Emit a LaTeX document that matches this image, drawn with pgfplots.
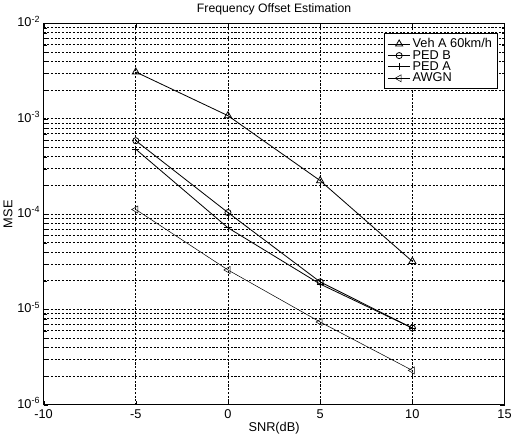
\documentclass[border=0pt]{standalone}
\usepackage{pgfplots}
\pgfplotsset{compat=1.18}
\usepackage{fontspec}
\setmainfont{Liberation Sans}

\begin{document}
\begin{tikzpicture}
\begin{axis}[
    scale only axis,
    width=452pt, height=374pt,
    ymode=log,
    xmin=-10, xmax=15,
    ymin=1e-6, ymax=1e-2,
    xtick={-10,-5,0,5,10,15},
    ytick={1e-6,1e-5,1e-4,1e-3,1e-2},
    yticklabels={10\textsuperscript{-6},10\textsuperscript{-5},10\textsuperscript{-4},10\textsuperscript{-3},10\textsuperscript{-2}},
    /pgf/number format/assume math mode=true,
    tick label style={font=\fontsize{12.5}{14}\selectfont},
    xticklabel style={yshift=-1.5pt},
    yticklabel style={yshift=2pt},
    label style={font=\fontsize{12.5}{14}\selectfont},
    ylabel style={yshift=-2pt},
    xlabel style={yshift=4pt},
    title style={font=\fontsize{12}{14}\selectfont, yshift=-1pt},
    title={Frequency Offset Estimation},
    xlabel={SNR(dB)},
    ylabel={MSE},
    xmajorgrids, ymajorgrids, yminorgrids,
    major grid style={black, dash pattern=on 2pt off 1.6pt, line width=0.8pt},
    minor grid style={black, dash pattern=on 2pt off 1.6pt, line width=0.8pt},
    axis line style={black, line width=1pt},
    tick style={black},
    tick align=inside,
    legend style={at={(0.985,0.975)}, anchor=north east, draw=black, line width=1pt,
        fill=white, font=\fontsize{12.5}{13}\selectfont, row sep=-3pt, inner sep=3pt},
    legend image code/.code={
        \draw[mark repeat=2,mark phase=2] plot coordinates {(0cm,0cm) (0.38cm,0cm) (0.76cm,0cm)};},
    legend cell align=left,
]
\addplot[black, line width=0.8pt, mark=triangle, mark size=4pt, mark options={solid}]
  coordinates {(-5,3.1e-3) (0,1.08e-3) (5,2.25e-4) (10,3.2e-5)};
\addplot[black, line width=0.8pt, mark=o, mark size=3pt]
  coordinates {(-5,5.9e-4) (0,1.04e-4) (5,1.95e-5) (10,6.4e-6)};
\addplot[black, line width=0.8pt, mark=+, mark size=3.5pt]
  coordinates {(-5,4.8e-4) (0,7.2e-5) (5,1.85e-5) (10,6.4e-6)};
\addplot[black, line width=0.5pt, mark=triangle, mark size=4pt, mark options={rotate=90}]
  coordinates {(-5,1.12e-4) (0,2.6e-5) (5,7.4e-6) (10,2.3e-6)};
\legend{Veh A 60km/h, PED B, PED A, AWGN}
\end{axis}
\end{tikzpicture}
\end{document}
